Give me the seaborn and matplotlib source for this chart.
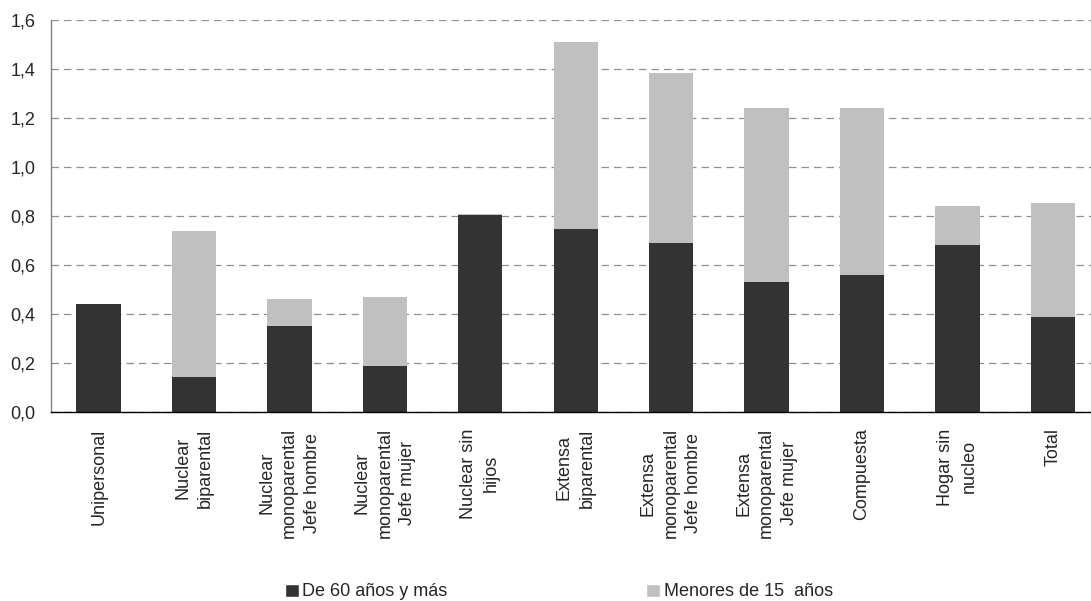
import numpy as np
import pandas as pd
import matplotlib
matplotlib.use("Agg")
import matplotlib.pyplot as plt
import seaborn as sns
from matplotlib.patches import Patch
from matplotlib.ticker import FuncFormatter, MultipleLocator

# --- data ---
categorias = ["Unipersonal", "Nuclear\nbiparental", "Nuclear\nmonoparental\nJefe hombre",
              "Nuclear\nmonoparental\nJefe mujer", "Nuclear sin\nhijos", "Extensa\nbiparental",
              "Extensa\nmonoparental\nJefe hombre", "Extensa\nmonoparental\nJefe mujer",
              "Compuesta", "Hogar sin\nnucleo", "Total"]
mayores_60 = [0.442, 0.144, 0.352, 0.189, 0.805, 0.748, 0.691, 0.532, 0.561, 0.683, 0.389]
menores_15 = [0.000, 0.596, 0.111, 0.282, 0.005, 0.764, 0.694, 0.710, 0.681, 0.159, 0.465]
serie_oscura = "De 60 años y más"
serie_clara = "Menores de 15  años"

df = pd.DataFrame({"cat": categorias, "dark": mayores_60, "light": menores_15})
df["total"] = df["dark"] + df["light"]

# --- style ---
sns.set_style("white")
plt.rcParams['font.family'] = ['Liberation Sans', 'DejaVu Sans']
plt.rcParams['font.size'] = 13

DARK = "#333333"
LIGHT = "#C0C0C0"

fig = plt.figure(figsize=(10.91, 6.01), dpi=100)
# plot area runs a little past the right edge, like the original
ax = fig.add_axes([0.0467, 0.314, 0.962, 0.652])

# stacked look: total in light, then the dark part on top of it
sns.barplot(data=df, x="cat", y="total", color=LIGHT, width=0.465,
            saturation=1, linewidth=0, ax=ax)
sns.barplot(data=df, x="cat", y="dark", color=DARK, width=0.465,
            saturation=1, linewidth=0, ax=ax)

ax.set_ylim(0, 1.6)
ax.set_xlim(-0.5, len(categorias) - 0.5)
ax.yaxis.set_major_locator(MultipleLocator(0.2))
ax.yaxis.set_major_formatter(FuncFormatter(lambda v, p: f"{v:.1f}".replace(".", ",")))
ax.set_axisbelow(True)
ax.grid(axis='y', linestyle=(0, (6, 4)), color='#909090', linewidth=0.9)
ax.grid(axis='x', visible=False)

# category labels centred, tick marks on the boundaries
ax.set_xticks(range(len(categorias)))
ax.set_xticklabels(categorias, rotation=90, ha='center', va='top',
                   multialignment='center', fontsize=13, linespacing=1.45)
ax.set_xticks(np.arange(-0.5, len(categorias), 1), minor=True)
ax.tick_params(axis='x', which='major', length=0, pad=11.5)
ax.tick_params(axis='x', which='minor', length=4, width=0.8, color='black', direction='out')
ax.tick_params(axis='y', length=5, width=0.8, color='#555555', direction='out',
               labelsize=13, pad=6)

ax.set_xlabel("")
ax.set_ylabel("")
for s in ["top", "right"]:
    ax.spines[s].set_visible(False)
ax.spines["left"].set_color("#808080")
ax.spines["left"].set_linewidth(1.0)
ax.spines["bottom"].set_color("black")
ax.spines["bottom"].set_linewidth(1.0)

handles = [Patch(facecolor=DARK, label=serie_oscura),
           Patch(facecolor=LIGHT, label=serie_clara)]
fig.legend(handles=handles, loc='center left', bbox_to_anchor=(0.2612, 0.015), ncol=2,
           frameon=False, fontsize=13, handlelength=0.75, handleheight=0.75,
           handletextpad=0.22, columnspacing=11.0, borderpad=0, borderaxespad=0)

fig.savefig("out.png", dpi=100)
